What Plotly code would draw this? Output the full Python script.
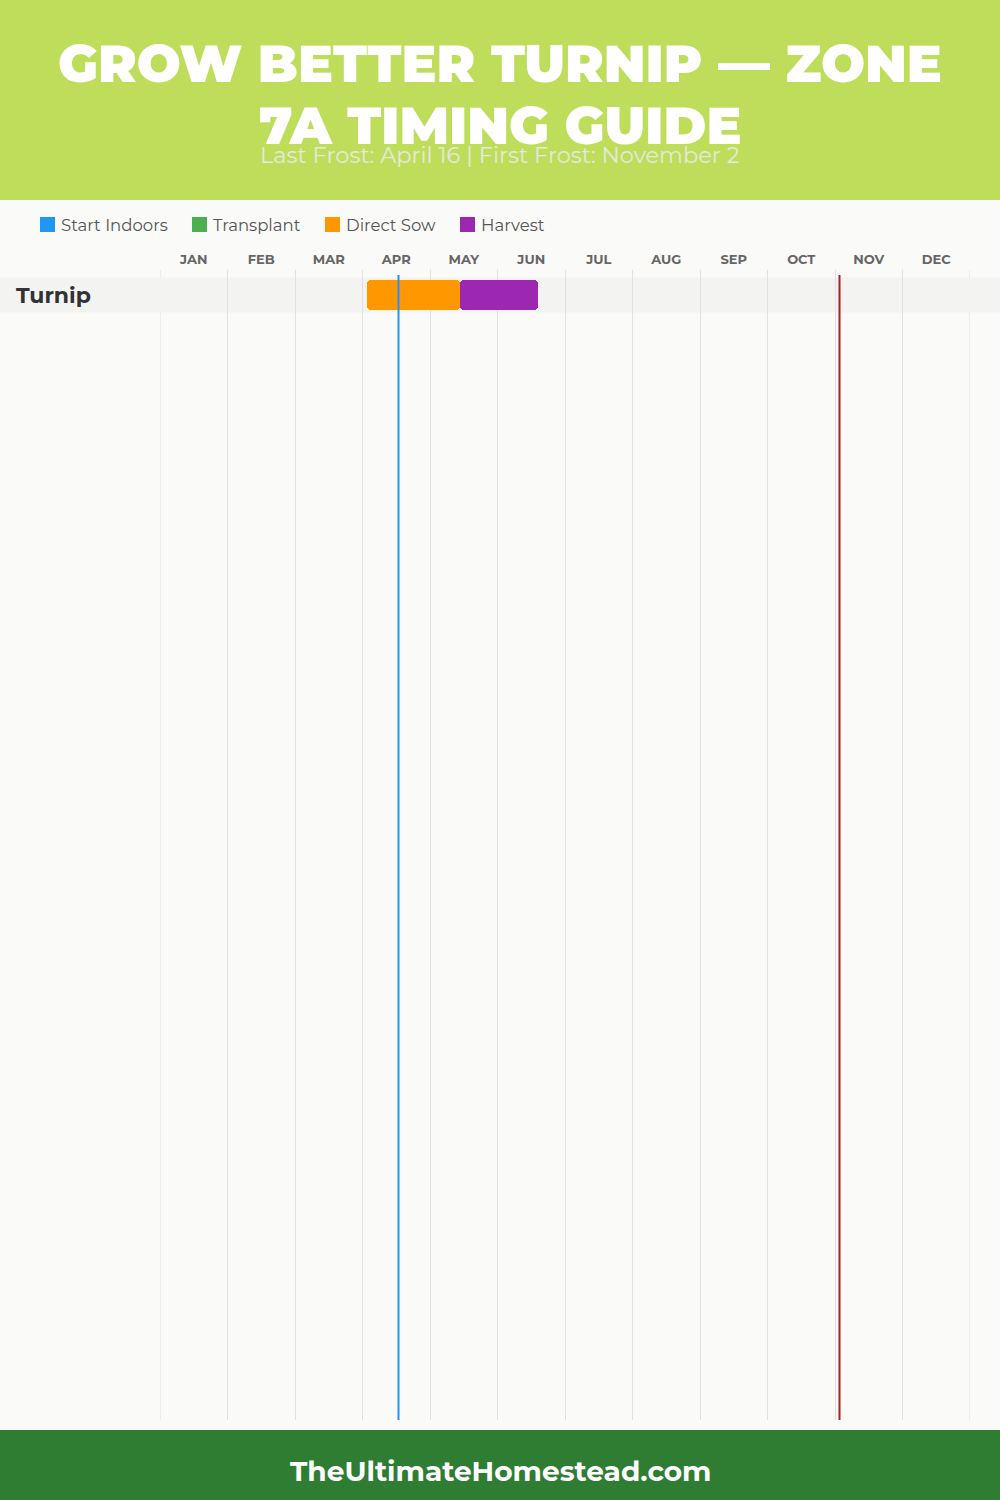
import plotly.graph_objects as go

# ---- data ----
crops = ["Turnip"]
stages = ["Start Indoors", "Transplant", "Direct Sow", "Harvest"]
stage_colors = {"Start Indoors": "#2196F3", "Transplant": "#4CAF50",
                "Direct Sow": "#FF9800", "Harvest": "#9C27B0"}
# month-fraction positions (0 = Jan 1, 12 = Dec 31)
direct_sow_start = [3.07]   # ~Apr 2
direct_sow_end = [4.45]     # ~May 14
harvest_start = [4.45]
harvest_end = [5.60]        # ~Jun 18
months = ["JAN", "FEB", "MAR", "APR", "MAY", "JUN",
          "JUL", "AUG", "SEP", "OCT", "NOV", "DEC"]
last_frost = 3 + 16 / 30    # April 16
first_frost = 10 + 2 / 30   # November 2
title_lines = ["GROW BETTER TURNIP — ZONE", "7A TIMING GUIDE"]
subtitle = "Last Frost: April 16 | First Frost: November 2"
footer = "TheUltimateHomestead.com"

# ---- layout geometry (pixels) ----
W, H = 1000, 1500
L, R, T, B = 160, 30, 270, 80
PW, PH = W - L - R, H - T - B
FONT = "Montserrat, Inter, 'Open Sans', sans-serif"


def px2x(px):
    return (px - L) / PW


def px2y(py):
    return (H - B - py) / PH


fig = go.Figure()

y_pos = list(range(len(crops)))
fig.add_trace(go.Bar(
    y=y_pos, base=direct_sow_start,
    x=[e - s for s, e in zip(direct_sow_start, direct_sow_end)],
    orientation="h", width=0.86, name="Direct Sow",
    marker=dict(color=stage_colors["Direct Sow"], cornerradius=4, line_width=0),
    showlegend=False))
fig.add_trace(go.Bar(
    y=y_pos, base=harvest_start,
    x=[e - s for s, e in zip(harvest_start, harvest_end)],
    orientation="h", width=0.86, name="Harvest",
    marker=dict(color=stage_colors["Harvest"], cornerradius=4, line_width=0),
    showlegend=False))

shapes = []
# header / footer
shapes.append(dict(type="rect", xref="paper", yref="paper", layer="below",
                   x0=px2x(0), x1=px2x(W), y0=px2y(0), y1=px2y(200),
                   fillcolor="#BEDE5B", line_width=0))
shapes.append(dict(type="rect", xref="paper", yref="paper", layer="below",
                   x0=px2x(0), x1=px2x(W), y0=px2y(1430), y1=px2y(H),
                   fillcolor="#2E7D32", line_width=0))
# edge grid lines (Jan 1 and Dec 31)
for xv in (0, 12):
    shapes.append(dict(type="line", xref="x", yref="paper", layer="below",
                       x0=xv, x1=xv, y0=0, y1=1,
                       line=dict(color="#E0E0E0", width=1)))
# row bands
for i in y_pos:
    shapes.append(dict(type="rect", xref="paper", yref="y", layer="below",
                       x0=px2x(0), x1=px2x(W), y0=i - 0.5, y1=i + 0.5,
                       fillcolor="#F3F3F2", line_width=0))
# frost lines
shapes.append(dict(type="line", xref="x", yref="paper", x0=last_frost, x1=last_frost,
                   y0=0, y1=px2y(275), line=dict(color="#2196F3", width=2)))
shapes.append(dict(type="line", xref="x", yref="paper", x0=first_frost, x1=first_frost,
                   y0=0, y1=px2y(275), line=dict(color="#B71C1C", width=2)))

annotations = []
annotations.append(dict(xref="paper", yref="paper", x=px2x(500), y=px2y(63),
                        text=title_lines[0], showarrow=False, xanchor="center", yanchor="middle",
                        font=dict(family=FONT, size=52, color="white", weight=900)))
annotations.append(dict(xref="paper", yref="paper", x=px2x(500), y=px2y(125),
                        text=title_lines[1], showarrow=False, xanchor="center", yanchor="middle",
                        font=dict(family=FONT, size=52, color="white", weight=900)))
annotations.append(dict(xref="paper", yref="paper", x=px2x(500), y=px2y(155),
                        text=subtitle, showarrow=False, xanchor="center", yanchor="middle",
                        font=dict(family=FONT, size=22.5, color="#E6E9DC")))
annotations.append(dict(xref="paper", yref="paper", x=px2x(500), y=px2y(1471),
                        text=footer, showarrow=False, xanchor="center", yanchor="middle",
                        font=dict(family=FONT, size=28, color="white", weight=700)))
# crop labels
for i, c in enumerate(crops):
    annotations.append(dict(xref="paper", yref="y", x=px2x(14), y=i,
                            text=c, showarrow=False, xanchor="left", yanchor="middle",
                            font=dict(family=FONT, size=22, color="#333333", weight=700)))

# legend (swatch + label)
legend_x = [40, 192, 325, 460]
for s, lx in zip(stages, legend_x):
    shapes.append(dict(type="rect", xref="paper", yref="paper",
                       x0=px2x(lx), x1=px2x(lx + 15), y0=px2y(217), y1=px2y(232),
                       fillcolor=stage_colors[s], line_width=0))
    annotations.append(dict(xref="paper", yref="paper", x=px2x(lx + 19), y=px2y(225),
                            text=s, showarrow=False, xanchor="left", yanchor="middle",
                            font=dict(family=FONT, size=16.5, color="#555555")))

# y range: 1 unit = 35 px, row 0 centred at 295 px
unit = 35
top_val = -(295 - T) / unit
bottom_val = top_val + PH / unit

fig.update_layout(
    width=W, height=H,
    margin=dict(l=L, r=R, t=T, b=B, pad=0),
    paper_bgcolor="#FAFAF8", plot_bgcolor="#FAFAF8",
    barmode="overlay", bargap=0,
    shapes=shapes, annotations=annotations,
    showlegend=False,
    font=dict(family=FONT),
    xaxis=dict(range=[0, 12], side="top", tickvals=[i + 0.5 for i in range(12)],
               ticktext=months, showgrid=False, zeroline=False, ticks="",
               ticklabelstandoff=2,
               tickfont=dict(family=FONT, size=13, color="#666666", weight=700),
               minor=dict(tickvals=list(range(13)), showgrid=True,
                          gridcolor="#E0E0E0", gridwidth=1),
               fixedrange=True),
    yaxis=dict(range=[bottom_val, top_val], showticklabels=False, showgrid=False,
               zeroline=False, fixedrange=True),
)

fig.write_html("out.html", config={"displayModeBar": False},
               post_script="document.body.style.margin='0';")
